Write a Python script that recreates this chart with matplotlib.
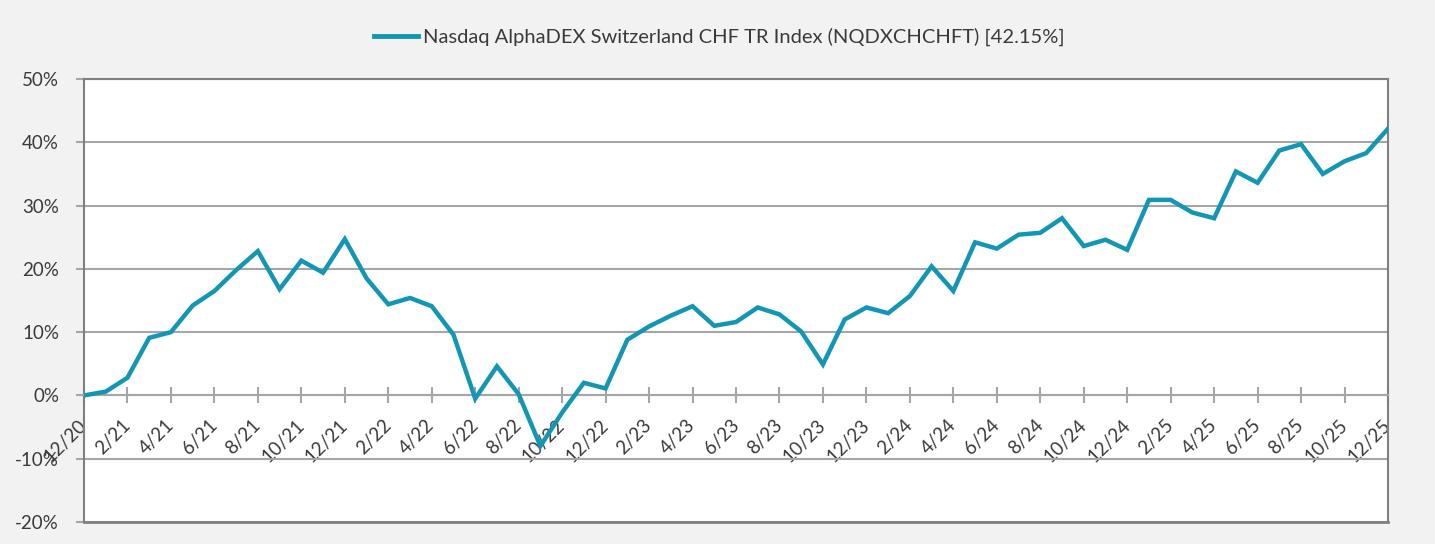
import matplotlib
matplotlib.use('Agg')
import matplotlib.pyplot as plt

plt.rcParams['font.family'] = ['Lato', 'DejaVu Sans']
plt.rcParams['axes.unicode_minus'] = False

series_name = "Nasdaq AlphaDEX Switzerland CHF TR Index (NQDXCHCHFT) [42.15%]"

values = [0.0, 0.6, 2.8, 9.1, 10.0, 14.2, 16.5, 19.8, 22.8, 16.8, 21.3, 19.4,
          24.7, 18.5, 14.4, 15.4, 14.1, 9.6, -0.5, 4.6, 0.2, -8.0, -2.7, 2.0,
          1.1, 8.8, 10.9, 12.6, 14.1, 11.0, 11.6, 13.9, 12.8, 10.1, 4.9, 12.0,
          13.9, 13.0, 15.7, 20.4, 16.5, 24.2, 23.2, 25.4, 25.7, 28.0, 23.6, 24.6,
          23.0, 30.9, 30.9, 28.9, 28.0, 35.4, 33.6, 38.7, 39.7, 35.0, 37.0, 38.3,
          42.15]

tick_labels = ["12/20", "2/21", "4/21", "6/21", "8/21", "10/21", "12/21",
               "2/22", "4/22", "6/22", "8/22", "10/22", "12/22",
               "2/23", "4/23", "6/23", "8/23", "10/23", "12/23",
               "2/24", "4/24", "6/24", "8/24", "10/24", "12/24",
               "2/25", "4/25", "6/25", "8/25", "10/25", "12/25"]

y_ticks = [-20, -10, 0, 10, 20, 30, 40, 50]
y_tick_labels = ["-20%", "-10%", "0%", "10%", "20%", "30%", "40%", "50%"]

W, H = 1435, 544
fig = plt.figure(figsize=(W / 100, H / 100), dpi=100, facecolor='#f2f2f2')
ax = fig.add_axes([84 / W, 1 - 522 / H, (1388 - 84) / W, (522 - 79) / H])
ax.set_facecolor('white')

xs = list(range(len(values)))
line_color = '#1396b3'
ax.plot(xs, values, color=line_color, lw=3.2, solid_joinstyle='miter',
        zorder=4, label=series_name)

ax.set_xlim(0, len(values) - 1)
ax.set_ylim(-20, 50)

grid_c = '#a6a6a6'
ax.yaxis.grid(True, color=grid_c, lw=1.5, zorder=1)
ax.set_axisbelow(True)

ax.spines['bottom'].set_position(('data', 0))
ax.spines['bottom'].set_color(grid_c)
ax.spines['bottom'].set_linewidth(1.5)
for s in ['left', 'top', 'right']:
    ax.spines[s].set_color('#808080')
    ax.spines[s].set_linewidth(1.5)
ax.axhline(-20, color='#808080', lw=2, clip_on=False, zorder=5)

ax.tick_params(axis='x', direction='inout', length=11, width=1.5, color=grid_c,
               labelsize=13.5, labelcolor='#3a3a3a', pad=14)
ax.tick_params(axis='y', direction='out', length=6, width=1.5, color=grid_c,
               labelsize=13.5, labelcolor='#3a3a3a', pad=12)

ax.set_yticks(y_ticks, y_tick_labels)
ax.set_xticks(xs[::2], tick_labels, rotation=45, ha='right', va='center',
              rotation_mode='anchor')

fig.legend(loc='center', bbox_to_anchor=(719 / W, 1 - 37 / H), frameon=False,
           fontsize=14.5, handlelength=2.2, handletextpad=0.25, labelcolor='#3a3a3a')
leg = fig.legends[0]
for h in leg.get_lines():
    h.set_linewidth(3.5)

fig.savefig('out.png', dpi=100, facecolor=fig.get_facecolor())
